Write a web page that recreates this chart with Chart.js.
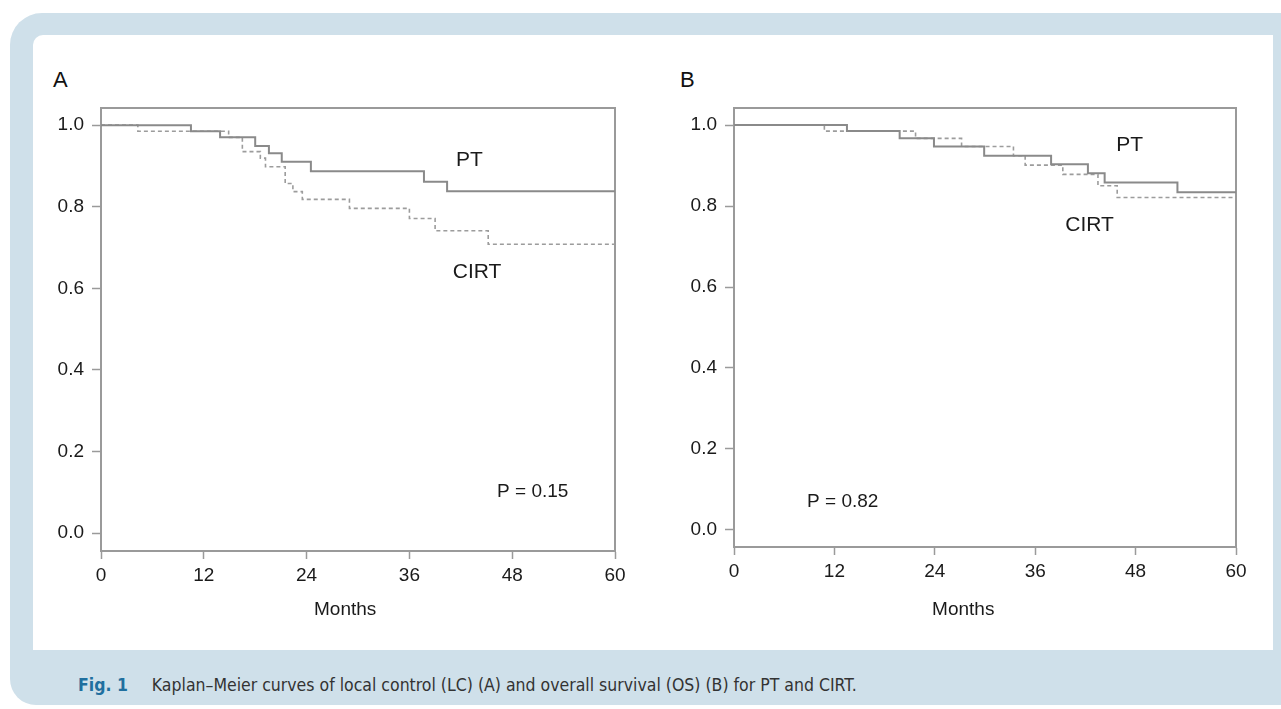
<!DOCTYPE html>
<html>
<head>
<meta charset="utf-8">
<script src="https://cdn.jsdelivr.net/npm/chart.js@4.4.1/dist/chart.umd.min.js"></script>
<style>
  html, body { margin: 0; padding: 0; background: #fff; }
  body { width: 1281px; height: 709px; position: relative; overflow: hidden;
         font-family: 'Liberation Sans', Arial, sans-serif; }
  .outer { position: absolute; left: 10px; top: 13px; width: 1300px; height: 692px;
           background: #cfe0ea; border-radius: 32px 0 0 26px; }
  .inner { position: absolute; left: 33px; top: 35px; width: 1240px; height: 615px;
           background: #fff; border-radius: 10px 0 0 0; }
  .panel-label { position: absolute; font-size: 22px; line-height: 22px; color: #111; }
  canvas { position: absolute; }
  .caption { position: absolute; left: 78px; top: 675px; font-size: 17.5px; line-height: 20px;
             white-space: nowrap; color: #333;
             font-family: 'Liberation Sans Narrow', 'DejaVu Sans Condensed', 'Liberation Sans', sans-serif; }
  .caption b { color: #1f6f9f; margin-right: 24px; }
</style>
</head>
<body>
<div class="outer"></div>
<div class="inner"></div>
<div class="panel-label" style="left:53px; top:69px;">A</div>
<div class="panel-label" style="left:680px; top:69px;">B</div>
<canvas id="chartA" width="600" height="580" style="left:40px; top:60px;"></canvas>
<canvas id="chartB" width="600" height="580" style="left:670px; top:60px;"></canvas>
<div class="caption"><b>Fig. 1</b>Kaplan–Meier curves of local control (LC) (A) and overall survival (OS) (B) for PT and CIRT.</div>

<script>
// tick values shared by both panels
const xTicks = [0, 12, 24, 36, 48, 60];
const yTicks = [0, 0.2, 0.4, 0.6, 0.8, 1.0];

// A: local control
const lcMonthsPT = [0, 10.5, 13.9, 18.0, 19.6, 21.1, 24.5, 37.7, 40.4, 60];
const lcSurvPT = [1.0, 0.985, 0.970, 0.949, 0.931, 0.910, 0.887, 0.861, 0.838, 0.838];
const lcMonthsCIRT = [0, 4.3, 14.9, 16.5, 18.6, 19.2, 21.5, 22.4, 23.5, 29.0, 36.0, 39.0, 45.2, 60];
const lcSurvCIRT = [1.0, 0.985, 0.970, 0.935, 0.919, 0.898, 0.857, 0.837, 0.818, 0.796, 0.771, 0.741, 0.708, 0.708];

// B: overall survival
const osMonthsPT = [0, 13.5, 19.8, 23.9, 29.9, 37.9, 42.3, 44.3, 53.0, 60];
const osSurvPT = [1.0, 0.985, 0.967, 0.947, 0.924, 0.903, 0.881, 0.858, 0.834, 0.834];
const osMonthsCIRT = [0, 10.8, 21.7, 27.2, 33.4, 34.8, 39.3, 43.5, 45.8, 60];
const osSurvCIRT = [1.0, 0.985, 0.967, 0.947, 0.924, 0.901, 0.878, 0.850, 0.821, 0.821];

const FONT = "'Liberation Sans', Arial, sans-serif";
const AXIS = '#9a9a9a';
Chart.defaults.font.family = FONT;

function toPoints(months, surv) {
    return months.map((m, i) => ({ x: m, y: surv[i] }));
}

// top and right sides of the box
const framePlugin = {
    id: 'frame',
    beforeDatasetsDraw(chart) {
        const { ctx, chartArea: a } = chart;
        ctx.save();
        ctx.strokeStyle = AXIS;
        ctx.lineWidth = 2;
        ctx.beginPath();
        ctx.moveTo(a.left, a.top);
        ctx.lineTo(a.right, a.top);
        ctx.lineTo(a.right, a.bottom);
        ctx.stroke();
        ctx.restore();
    }
};

// PT / CIRT / P value / Months text, placed in data coordinates
const textPlugin = {
    id: 'panelText',
    afterDatasetsDraw(chart, args, opts) {
        const { ctx } = chart;
        const xs = chart.scales.x, ys = chart.scales.y;
        ctx.save();
        ctx.fillStyle = '#1a1a1a';
        ctx.textAlign = 'center';
        ctx.textBaseline = 'middle';
        opts.items.forEach(it => {
            ctx.font = it.size + 'px ' + FONT;
            ctx.fillText(it.text, xs.getPixelForValue(it.x), ys.getPixelForValue(it.y));
        });
        ctx.restore();
    }
};

function makeChart(id, ptPts, cirtPts, cfg) {
    return new Chart(document.getElementById(id), {
        type: 'line',
        data: {
            datasets: [
                { label: 'PT', data: ptPts, borderColor: '#8a8a8a', borderWidth: 2,
                  stepped: 'before', pointRadius: 0, fill: false },
                { label: 'CIRT', data: cirtPts, borderColor: '#9c9c9c', borderWidth: 1.6,
                  borderDash: [4, 3], stepped: 'before', pointRadius: 0, fill: false }
            ]
        },
        options: {
            responsive: false,
            animation: false,
            layout: { padding: { top: 48, right: cfg.padRight, left: 0, bottom: 0 } },
            plugins: {
                legend: { display: false },
                tooltip: { enabled: false },
                panelText: { items: cfg.texts }
            },
            scales: {
                x: {
                    type: 'linear', min: 0, max: 60,
                    afterBuildTicks: s => { s.ticks = xTicks.map(v => ({ value: v })); },
                    afterFit: s => { s.height = cfg.xHeight; },
                    grid: { drawOnChartArea: false, drawTicks: true, tickLength: 8, tickColor: AXIS, tickWidth: 1.5 },
                    border: { color: AXIS, width: 2 },
                    ticks: { padding: 5, color: '#1a1a1a', font: { size: 19 }, maxRotation: 0 }
                },
                y: {
                    min: cfg.yMin, max: cfg.yMax,
                    afterBuildTicks: s => { s.ticks = yTicks.map(v => ({ value: v })); },
                    afterFit: s => { s.width = cfg.yWidth; },
                    grid: { drawOnChartArea: false, drawTicks: true, tickLength: 9, tickColor: AXIS, tickWidth: 1.5 },
                    border: { color: AXIS, width: 2 },
                    ticks: { padding: 8, color: '#1a1a1a', font: { size: 19 },
                             callback: v => Number(v).toFixed(1) }
                }
            }
        },
        plugins: [framePlugin, textPlugin]
    });
}

makeChart('chartA', toPoints(lcMonthsPT, lcSurvPT), toPoints(lcMonthsCIRT, lcSurvCIRT), {
    padRight: 25, xHeight: 89, yWidth: 61, yMin: -0.044, yMax: 1.042,
    texts: [
        { text: 'PT', x: 43.0, y: 0.914, size: 21 },
        { text: 'CIRT', x: 43.9, y: 0.640, size: 21 },
        { text: 'P = 0.15', x: 50.4, y: 0.100, size: 19 },
        { text: 'Months', x: 28.5, y: -0.189, size: 19 }
    ]
});

makeChart('chartB', toPoints(osMonthsPT, osSurvPT), toPoints(osMonthsCIRT, osSurvCIRT), {
    padRight: 34, xHeight: 93, yWidth: 64, yMin: -0.042, yMax: 1.042,
    texts: [
        { text: 'PT', x: 47.3, y: 0.951, size: 21 },
        { text: 'CIRT', x: 42.5, y: 0.753, size: 21 },
        { text: 'P = 0.82', x: 13.0, y: 0.069, size: 19 },
        { text: 'Months', x: 27.4, y: -0.198, size: 19 }
    ]
});
</script>
</body>
</html>
